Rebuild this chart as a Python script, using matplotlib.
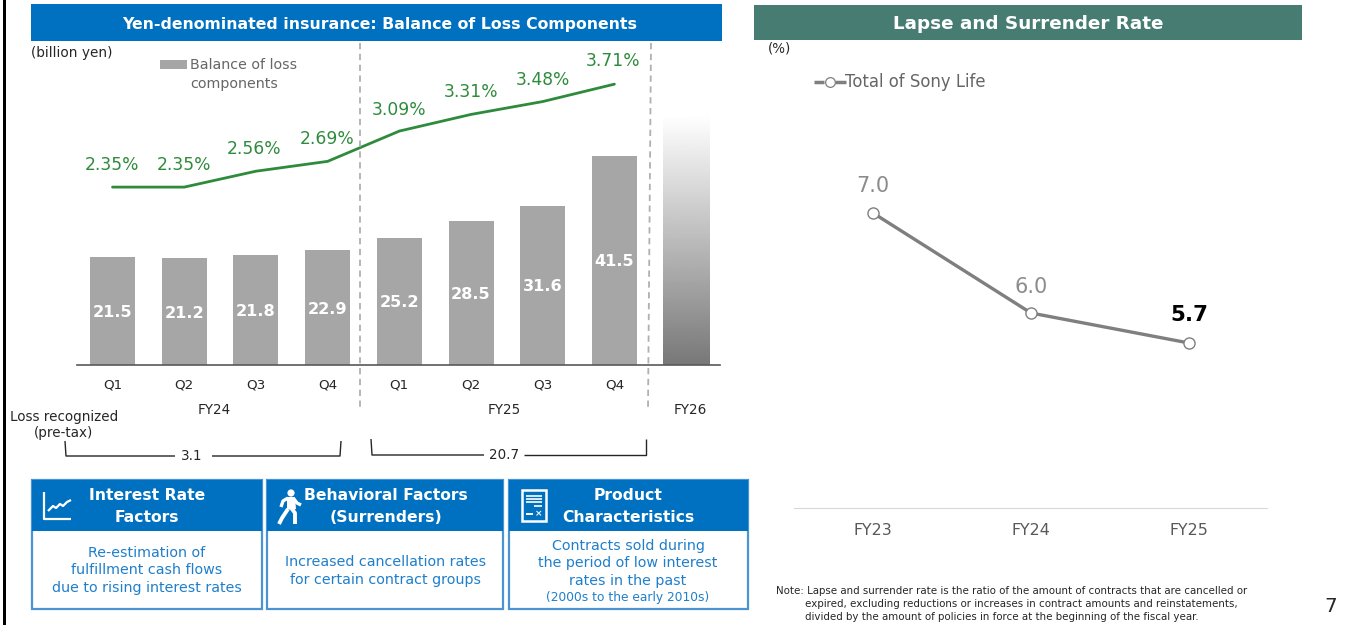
import numpy as np
import matplotlib
matplotlib.use("Agg")
import matplotlib.pyplot as plt
from matplotlib.patches import Rectangle, Circle, Polygon

W, H = 1347, 625
quarters = ["Q1", "Q2", "Q3", "Q4", "Q1", "Q2", "Q3", "Q4"]
balance = [21.5, 21.2, 21.8, 22.9, 25.2, 28.5, 31.6, 41.5]
ratio = [2.35, 2.35, 2.56, 2.69, 3.09, 3.31, 3.48, 3.71]
fy26_height = 49.6
lapse_years = ["FY23", "FY24", "FY25"]
lapse = [7.0, 6.0, 5.7]

BLUE = "#0070C0"; TEAL = "#467C72"; GREEN = "#2E8B3C"; GRAY = "#A6A6A6"
TXT = "#262626"; LBLUE = "#1F7FCB"; EDGE = "#4A94D4"

fig = plt.figure(figsize=(W/100, H/100), dpi=100, facecolor="white")
plt.rcParams["font.family"] = ["DejaVu Sans"]

def axpx(l, t, r, b, z=1):
    a = fig.add_axes([l/W, 1-b/H, (r-l)/W, (b-t)/H], zorder=z)
    a.patch.set_alpha(0)
    return a

bg = axpx(0, 0, W, H, 0)
bg.set_xlim(0, W); bg.set_ylim(H, 0); bg.axis("off")
fg = axpx(0, 0, W, H, 5)
fg.set_xlim(0, W); fg.set_ylim(H, 0); fg.axis("off")

def T(x, y, s, px, c=TXT, ha="center", w="normal", a=None, **k):
    (a or fg).text(x, y, s, fontsize=px*0.72, color=c, ha=ha, va="center", fontweight=w, **k)

def R(x0, y0, x1, y1, fc, ec="none", lw=0, a=None):
    (a or bg).add_patch(Rectangle((x0, y0), x1-x0, y1-y0, fc=fc, ec=ec, lw=lw))

def L(xs, ys, c=TXT, lw=1.0, a=None, **k):
    (a or fg).plot(xs, ys, color=c, lw=lw, solid_capstyle="butt", **k)

# frame line at left and title bars
R(3, 0, 5.5, H, "black")
R(31, 4, 722, 41, BLUE)
R(754, 5, 1302, 40, TEAL)
T(379.5, 25, "Yen-denominated insurance: Balance of Loss Components", 15.75, "white", w="bold")
T(1028, 24, "Lapse and Surrender Rate", 18.4, "white", w="bold")

# bar + line chart (x unit = 71.7 px, baseline at y=365)
ax = axpx(77, 41, 720, 365, 2)
xs = np.arange(len(balance))
ax.bar(xs, balance, width=45/71.7, color=GRAY)
grad = np.linspace(0.47, 1.0, 256).reshape(-1, 1)
ax.imshow(grad, extent=(8-46/143.4, 8+46/143.4, 0, fy26_height), origin="lower",
          cmap="gray", vmin=0, vmax=1, aspect="auto", interpolation="bilinear")
ax.set_xlim((77-112.5)/71.7, (720-112.5)/71.7)
ax.set_ylim(0, 324/5.04)
label_heights = [10.5, 10.2, 10.6, 11.0, 12.4, 14.0, 15.6, 20.6]
for x, v, h in zip(xs, balance, label_heights):
    ax.text(x, h, f"{v:.1f}", color="white", fontsize=11.6, fontweight="bold", ha="center", va="center")
for s in ["top", "left", "right"]:
    ax.spines[s].set_visible(False)
ax.spines["bottom"].set_color("#595959"); ax.spines["bottom"].set_linewidth(1.2)
ax.set_yticks([]); ax.set_xticks(xs, quarters)
ax.tick_params(axis="x", length=0, pad=9.5, labelsize=9.7, labelcolor=TXT)

ax2 = ax.twinx()
ax2.patch.set_alpha(0)
ax2.set_ylim(0, 324/75.7)
ax2.plot(xs, ratio, color=GREEN, lw=2.0, solid_capstyle="round")
ax2.axis("off")
ox = [0, 0, -2, 0, 0, 0, 0, -1]
oy = [22, 22, 22, 22, 22, 22, 22, 23]
oy[4] = 21
for x, v, dx, dy in zip(xs, ratio, ox, oy):
    ax2.annotate(f"{v:.2f}%", (x, v), xytext=(dx*0.72, dy*0.72), textcoords="offset points",
                 color=GREEN, fontsize=12.3, ha="center", va="center")

# decoration on the left panel
T(31, 53, "(billion yen)", 13.6, ha="left")
R(160, 60, 187, 69, GRAY)
T(190, 65, "Balance of loss", 14.2, "#666666", ha="left")
T(190, 84, "components", 14.2, "#666666", ha="left")
L([360, 360], [43, 408], "#B0B0B0", 1.3, ls=(0, (3.5, 2.5)))
L([651, 648], [43, 410], "#B0B0B0", 1.3, ls=(0, (3.5, 2.5)))
T(214, 410, "FY24", 13.5)
T(504, 410, "FY25", 13.5)
T(690, 410, "FY26", 13.5)
T(64, 417, "Loss recognized", 13.5)
T(64, 433, "(pre-tax)", 13.5)
L([65, 66, 175], [441, 456, 456]); L([212, 340, 341], [456, 456, 441])
T(192, 456, "3.1", 13.5)
L([371, 372, 484], [439, 455, 455]); L([524, 646, 646], [455, 455, 439])
T(504, 455, "20.7", 13.5)

# three boxes
boxes = [(32, 262), (267, 503), (509, 748)]
for x0, x1 in boxes:
    R(x0, 480, x1, 609, "white", EDGE, 1.6)
    R(x0, 480, x1, 531, BLUE)
T(147, 496, "Interest Rate", 15.6, "white", w="bold")
T(147, 517, "Factors", 15.6, "white", w="bold")
T(386, 496, "Behavioral Factors", 15.6, "white", w="bold")
T(386, 517, "(Surrenders)", 15.6, "white", w="bold")
T(628, 496, "Product", 15.6, "white", w="bold")
T(628, 517, "Characteristics", 15.6, "white", w="bold")
for y, s in [(553, "Re-estimation of"), (570.5, "fulfillment cash flows"), (588, "due to rising interest rates")]:
    T(147, y, s, 14.2, LBLUE)
for y, s in [(562, "Increased cancellation rates"), (580, "for certain contract groups")]:
    T(386, y, s, 14.2, LBLUE)
for y, s in [(546, "Contracts sold during"), (563, "the period of low interest"), (581, "rates in the past")]:
    T(628, y, s, 14.2, LBLUE)
T(628, 597, "(2000s to the early 2010s)", 12.2, LBLUE)

# icons
L([44, 44, 71], [492, 519, 519], "white", 1.6)
L([48, 53, 56, 60, 63, 67, 71], [511, 506, 508, 504, 506, 502, 500], "white", 1.6)
fg.add_patch(Circle((291, 493), 3.6, fc="white", ec="none"))
fg.add_patch(Polygon([[287, 497], [295, 497], [296, 509], [291, 510], [287, 509]], fc="white", ec="none"))
L([288, 282, 279], [509, 518, 524], "white", 2.8)
L([292, 295, 295], [509, 513, 524], "white", 2.8)
L([288, 283, 281], [498, 501, 507], "white", 2.4)
L([294, 297, 301], [499, 503, 505], "white", 2.4)
fg.add_patch(Rectangle((522, 490), 24, 31, fc="none", ec="white", lw=1.8))
for y0 in [496, 499, 502]:
    L([526, 542], [y0, y0], "white", 1.2)
L([534, 542], [505.5, 505.5], "white", 1.2)
L([526, 533], [514, 514], "white", 1.4)
T(539, 514, "×", 9, "white", w="bold")

# right chart (1 unit = 100 px, baseline y=508)
rx = axpx(794, 41, 1267, 508, 2)
rxs = np.arange(len(lapse))
rx.set_xlim((794-873)/158, (1267-873)/158)
rx.set_ylim(7-295/100, 7+172/100)
rx.plot(rxs, lapse, color="#7F7F7F", lw=2.4, marker="o", ms=8, mfc="white", mec="#7F7F7F", mew=1, zorder=3)
for s in ["top", "left", "right"]:
    rx.spines[s].set_visible(False)
rx.spines["bottom"].set_color("#D9D9D9")
rx.set_yticks([]); rx.set_xticks(rxs, lapse_years)
rx.tick_params(axis="x", length=0, pad=10.5, labelsize=11.4, labelcolor="#595959")
colors = ["#8C8C8C", "#8C8C8C", "black"]
sizes = [15, 15, 15.5]
weights = ["normal", "normal", "bold"]
dys = [27, 26, 28]
for x, v, c, sz, wt, dy in zip(rxs, lapse, colors, sizes, weights, dys):
    rx.annotate(f"{v:.1f}", (x, v), xytext=(0, dy*0.72), textcoords="offset points",
                color=c, fontsize=sz, fontweight=wt, ha="center", va="center")

T(768, 49, "(%)", 13.5, ha="left")
L([814, 824], [82, 82], "#7F7F7F", 2.5); L([835, 846], [82, 82], "#7F7F7F", 2.5)
fg.plot([829.5], [82], "o", ms=7, mfc="white", mec="#7F7F7F", mew=0.9)
T(845, 82, "Total of Sony Life", 16.5, "#666666", ha="left")

T(776, 591, "Note: Lapse and surrender rate is the ratio of the amount of contracts that are cancelled or", 10.27, ha="left")
T(805, 604, "expired, excluding reductions or increases in contract amounts and reinstatements,", 10.27, ha="left")
T(805, 617, "divided by the amount of policies in force at the beginning of the fiscal year.", 10.27, ha="left")
T(1331, 606, "7", 20)

fig.savefig("out.png", dpi=100, facecolor="white")
